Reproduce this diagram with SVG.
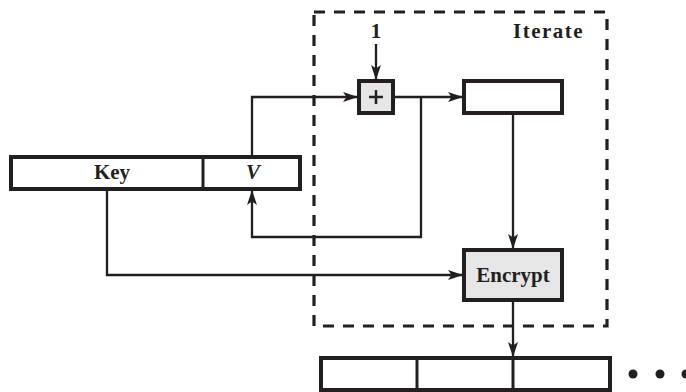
<svg xmlns="http://www.w3.org/2000/svg" width="686" height="392" viewBox="0 0 686 392">
<style>
.box{fill:#fff;stroke:#231f20;stroke-width:4}
.op{fill:#e6e6e7;stroke:#231f20;stroke-width:4}
.ln{fill:none;stroke:#231f20;stroke-width:2.3}
.dash{fill:none;stroke:#231f20;stroke-width:3.2;stroke-dasharray:11 9}
.t{font-family:'Liberation Serif',Tinos,'Times New Roman',serif;font-weight:700;font-size:21px;fill:#231f20}
</style>
<defs>
<marker id="ah" markerUnits="userSpaceOnUse" markerWidth="16" markerHeight="12" refX="14" refY="6" orient="auto">
<path d="M0,1 L15,6 L0,11 L3.5,6 Z" fill="#231f20"/>
</marker>
</defs>
<rect x="0" y="0" width="686" height="392" fill="#fff"/>
<g id="iterate-frame">
<rect class="dash" x="314" y="12" width="293" height="314"/>
<text class="t" x="513" y="38" letter-spacing="1.5">Iterate</text>
</g>
<g id="connectors">
<line class="ln" x1="376" y1="44" x2="376" y2="79" marker-end="url(#ah)"/>
<polyline class="ln" points="252,156 252,97 357,97" marker-end="url(#ah)"/>
<line class="ln" x1="394" y1="97" x2="462" y2="97" marker-end="url(#ah)"/>
<polyline class="ln" points="421,97 421,237 252,237 252,191" marker-end="url(#ah)"/>
<line class="ln" x1="513" y1="113" x2="513" y2="248" marker-end="url(#ah)"/>
<polyline class="ln" points="107,190 107,275 462,275" marker-end="url(#ah)"/>
<line class="ln" x1="513" y1="300" x2="513" y2="356" marker-end="url(#ah)"/>
</g>
<g id="one-label">
<text class="t" x="376" y="38" text-anchor="middle">1</text>
</g>
<g id="adder">
<rect class="op" x="359" y="81" width="34" height="32"/>
<path d="M369,97 H383 M376,90 V104" stroke="#231f20" stroke-width="2.5" fill="none"/>
</g>
<g id="register">
<rect class="box" x="464" y="81" width="98" height="32"/>
</g>
<g id="key-v">
<rect class="box" x="11" y="157" width="289" height="32"/>
<line x1="203" y1="157" x2="203" y2="189" stroke="#231f20" stroke-width="3"/>
<text class="t" x="112" y="179" text-anchor="middle">Key</text>
<text class="t" x="253" y="179" text-anchor="middle" font-style="italic">V</text>
</g>
<g id="encrypt">
<rect class="op" x="464" y="250" width="98" height="50"/>
<text class="t" x="513" y="282" text-anchor="middle">Encrypt</text>
</g>
<g id="output">
<rect class="box" x="321" y="358" width="289" height="32"/>
<line x1="417" y1="358" x2="417" y2="390" stroke="#231f20" stroke-width="3"/>
<line x1="513" y1="358" x2="513" y2="390" stroke="#231f20" stroke-width="3"/>
<circle cx="633" cy="374" r="4.5" fill="#231f20"/>
<circle cx="660" cy="374" r="4.5" fill="#231f20"/>
<circle cx="686" cy="374" r="4.5" fill="#231f20"/>
</g>
</svg>
